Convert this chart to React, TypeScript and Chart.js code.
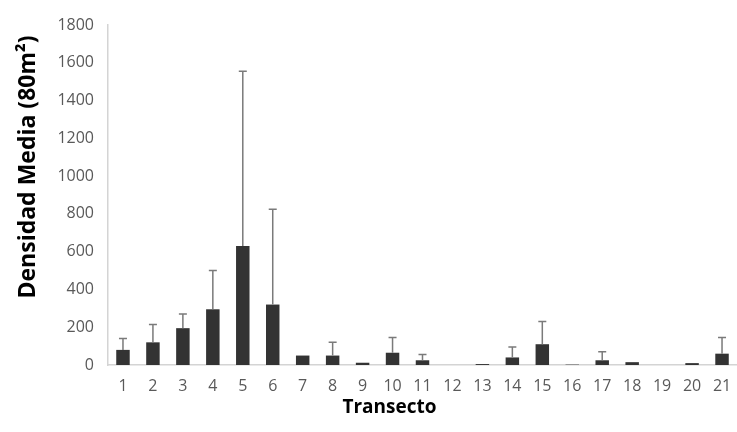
import React, { useEffect, useRef } from "react";
import { Chart, registerables } from "chart.js";

Chart.register(...registerables);

const categories = ["1","2","3","4","5","6","7","8","9","10","11","12","13","14","15","16","17","18","19","20","21"];
const meanValues = [80, 120, 195, 295, 630, 320, 50, 50, 12, 65, 25, 0, 5, 40, 110, 2, 25, 15, 0, 10, 60];
const upperValues: (number | null)[] = [140, 215, 270, 500, 1555, 825, null, 120, null, 145, 55, null, null, 95, 230, null, 70, null, null, null, 145];
const yTicks = [0, 200, 400, 600, 800, 1000, 1200, 1400, 1600, 1800];
const xTitle = "Transecto";
const yTitle = "Densidad Media (80m²)";

const errorBarPlugin = {
  id: "errorBars",
  afterDatasetsDraw(chart: any) {
    const meta = chart.getDatasetMeta(0);
    const yScale = chart.scales.y;
    const ctx = chart.ctx;
    ctx.save();
    ctx.strokeStyle = "#7a7a7a";
    ctx.lineWidth = 1.5;
    meta.data.forEach((el: any, i: number) => {
      const up = upperValues[i];
      if (up == null || up <= meanValues[i]) return;
      const x = el.x;
      const yTop = yScale.getPixelForValue(up);
      const yBar = el.y;
      ctx.beginPath();
      ctx.moveTo(x, yBar);
      ctx.lineTo(x, yTop);
      ctx.moveTo(x - 4, yTop);
      ctx.lineTo(x + 4, yTop);
      ctx.stroke();
    });
    ctx.restore();
  },
};

const titlesPlugin = {
  id: "axisTitles",
  afterDraw(chart: any) {
    const ctx = chart.ctx;
    const area = chart.chartArea;
    ctx.save();
    ctx.fillStyle = "#000";
    ctx.textAlign = "center";
    ctx.textBaseline = "middle";
    ctx.font = "bold 19px 'Open Sans'";
    ctx.fillText(xTitle, (area.left + area.right) / 2 - 33, 408);
    ctx.translate(28, (area.top + area.bottom) / 2 - 28);
    ctx.rotate(-Math.PI / 2);
    ctx.font = "bold 23px 'Open Sans'";
    ctx.fillText(yTitle, 0, 0);
    ctx.restore();
  },
};

export default function App() {
  const ref = useRef<HTMLCanvasElement>(null);
  useEffect(() => {
    document.body.style.margin = "0";
    const chart = new Chart(ref.current as HTMLCanvasElement, {
      type: "bar",
      data: {
        labels: categories,
        datasets: [
          {
            data: meanValues,
            backgroundColor: "#333333",
            barPercentage: 0.45,
            categoryPercentage: 1,
          },
        ],
      },
      options: {
        animation: false,
        responsive: false,
        layout: { padding: { top: 25, right: 0, bottom: 0, left: 0 } },
        plugins: { legend: { display: false }, tooltip: { enabled: false } },
        scales: {
          x: {
            grid: { display: false },
            border: { display: true, color: "#d4d4d4", width: 1.5 },
            ticks: { color: "#595959", font: { family: "'Open Sans'", size: 16 }, padding: 4 },
            afterFit(scale: any) {
              scale.height = 67;
            },
          },
          y: {
            min: 0,
            max: 1800,
            afterBuildTicks(scale: any) {
              scale.ticks = yTicks.map((v) => ({ value: v }));
            },
            grid: { display: false },
            border: { display: true, color: "#d4d4d4", width: 1.5 },
            ticks: {
              color: "#595959",
              font: { family: "'Open Sans'", size: 16 },
              padding: 6,
              callback: (v: any) => String(v),
            },
            afterFit(scale: any) {
              scale.width = 108;
            },
          },
        },
      },
      plugins: [errorBarPlugin, titlesPlugin],
    });
    return () => chart.destroy();
  }, []);
  return <canvas ref={ref} width={737} height={432} style={{ display: "block", background: "#fff" }} />;
}
